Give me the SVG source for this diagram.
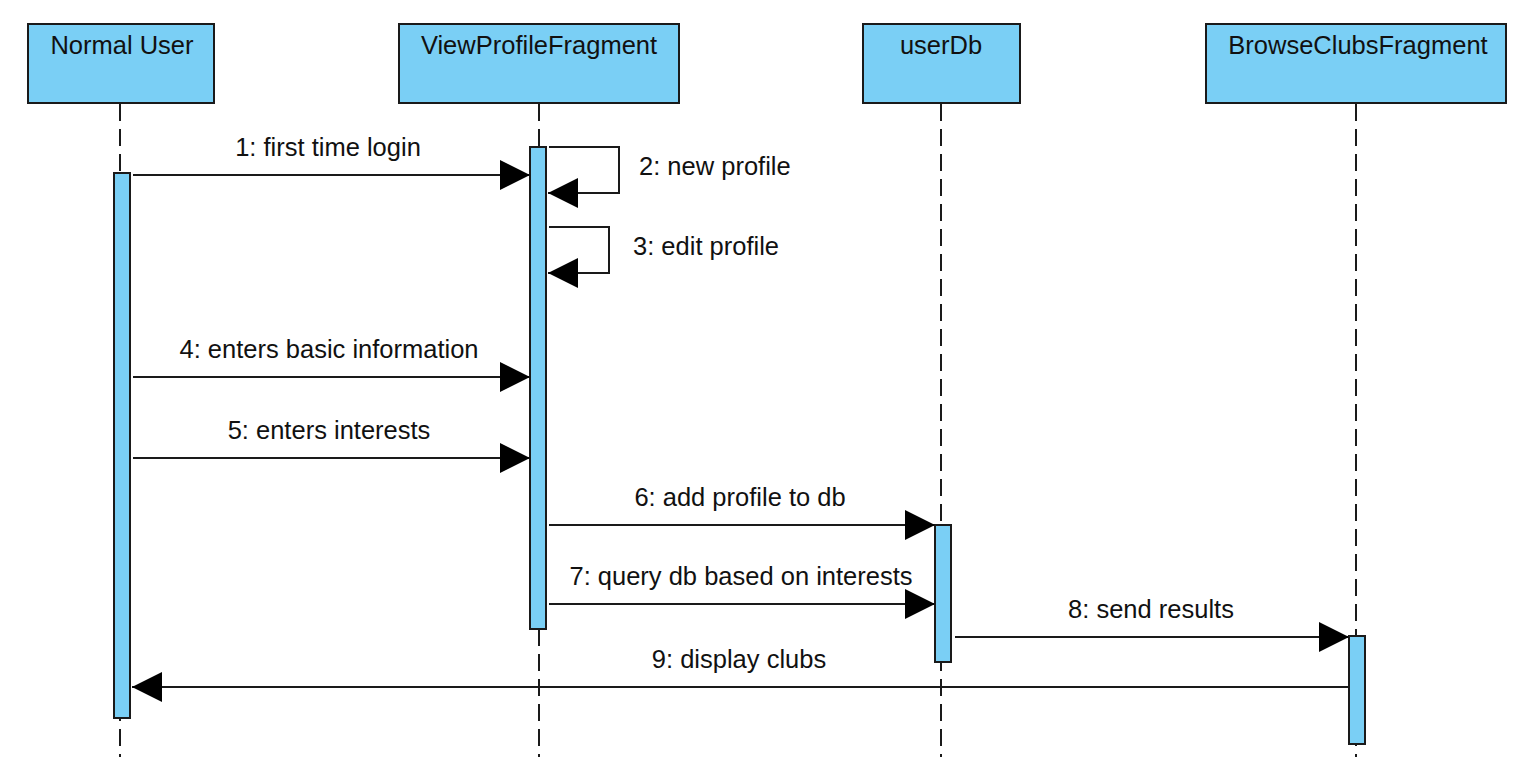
<svg xmlns="http://www.w3.org/2000/svg" width="1516" height="757" viewBox="0 0 1516 757">
<style>
.box{fill:#7acff5;stroke:#1a1a1a;stroke-width:2}
.bar{fill:#7acff5;stroke:#1a1a1a;stroke-width:2}
.life{stroke:#1a1a1a;stroke-width:2;stroke-dasharray:17 8;fill:none}
.msg{stroke:#1a1a1a;stroke-width:2;fill:none;marker-end:url(#ah)}
text{font-family:"Liberation Sans",Arial,sans-serif;font-size:25.5px;fill:#111}
.t{text-anchor:middle}
</style>
<defs>
<marker id="ah" markerUnits="userSpaceOnUse" markerWidth="30" markerHeight="30" viewBox="0 0 28 28" refX="28" refY="14" orient="auto">
<path d="M0,0 L28,14 L0,28 Z" fill="#000"/>
</marker>
</defs>
<rect width="1516" height="757" fill="#fff"/>
<g id="lifelines">
<line class="life" x1="120" y1="104" x2="120" y2="757"/>
<line class="life" x1="539" y1="104" x2="539" y2="757"/>
<line class="life" x1="941" y1="104" x2="941" y2="757"/>
<line class="life" x1="1356" y1="104" x2="1356" y2="757"/>
</g>
<g id="normal-user">
<rect class="box" x="28" y="24" width="186" height="79"/>
<text class="t" x="122" y="54">Normal User</text>
<rect class="bar" x="114" y="173" width="16" height="545"/>
</g>
<g id="view-profile-fragment">
<rect class="box" x="399" y="24" width="280" height="79"/>
<text class="t" x="539" y="54">ViewProfileFragment</text>
<rect class="bar" x="530" y="147" width="16" height="482"/>
</g>
<g id="user-db">
<rect class="box" x="863" y="24" width="157" height="79"/>
<text class="t" x="941" y="54">userDb</text>
<rect class="bar" x="935" y="525" width="16" height="137"/>
</g>
<g id="browse-clubs-fragment">
<rect class="box" x="1206" y="24" width="300" height="79"/>
<text class="t" x="1358" y="54">BrowseClubsFragment</text>
<rect class="bar" x="1349" y="636" width="16" height="108"/>
</g>
<g id="connectors">
<line class="msg" x1="133" y1="175" x2="530" y2="175"/>
<text class="t" x="328" y="156">1: first time login</text>
<polyline class="msg" points="549,147 619,147 619,193 548,193"/>
<text x="639" y="175">2: new profile</text>
<polyline class="msg" points="549,227 609,227 609,273 548,273"/>
<text x="633" y="255">3: edit profile</text>
<line class="msg" x1="133" y1="377" x2="530" y2="377"/>
<text class="t" x="329" y="358">4: enters basic information</text>
<line class="msg" x1="133" y1="458" x2="530" y2="458"/>
<text class="t" x="329" y="439">5: enters interests</text>
<line class="msg" x1="549" y1="525" x2="935" y2="525"/>
<text class="t" x="740" y="506">6: add profile to db</text>
<line class="msg" x1="549" y1="604" x2="935" y2="604"/>
<text class="t" x="741" y="585">7: query db based on interests</text>
<line class="msg" x1="955" y1="637" x2="1349" y2="637"/>
<text class="t" x="1151" y="618">8: send results</text>
<line class="msg" x1="1349" y1="687" x2="132" y2="687"/>
<text class="t" x="739" y="668">9: display clubs</text>
</g>
</svg>
